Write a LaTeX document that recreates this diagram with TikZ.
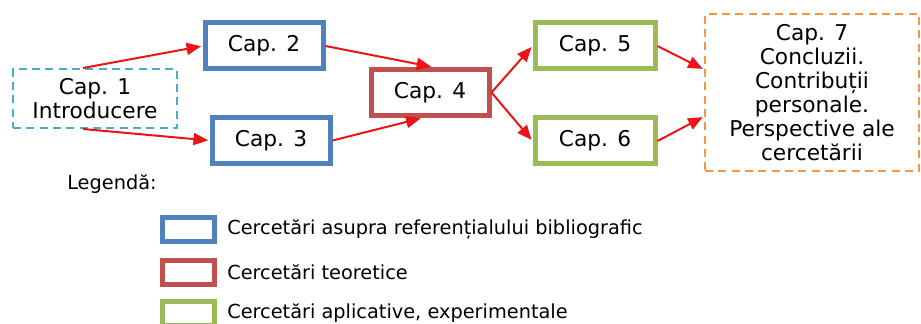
\documentclass[tikz,border=0pt]{standalone}
\usepackage{fontspec}
\setmainfont{DejaVu Sans}
\usetikzlibrary{arrows.meta}
\definecolor{cblue}{HTML}{4F81BD}
\definecolor{cred}{HTML}{C0504D}
\definecolor{cgreen}{HTML}{9BBB59}
\definecolor{cteal}{HTML}{4BACC6}
\definecolor{corange}{HTML}{F79646}
\definecolor{carrow}{RGB}{235,20,25}
\begin{document}
\begin{tikzpicture}[x=0.75pt,y=-0.75pt,
  mainfont/.style={font=\fontsize{16.3}{18}\selectfont},
  solidbox/.style={draw=#1, line width=3.75pt, inner sep=0pt, minimum width=88.5pt, minimum height=34.5pt, mainfont, align=center},
  dashbox/.style={draw=#1, line width=1.5pt, dash pattern=on 6pt off 4pt, inner sep=0pt, mainfont, align=center},
  legbox/.style={draw=#1, line width=3.75pt, inner sep=0pt, minimum width=39pt, minimum height=18pt},
  legtext/.style={anchor=west, inner sep=0pt, font=\fontsize{14.5}{16}\selectfont},
  link/.style={draw=carrow, line width=1.5pt, -{Triangle[length=11pt,width=9pt]}, shorten >=1pt}]
\useasboundingbox (0,0) rectangle (921,324);

\node[dashbox=cteal, minimum width=123pt, minimum height=44.25pt] (c1) at (95,98.5) {Cap. 1\\Introducere};
\node[solidbox=cblue] (c2) at (264,46) {Cap. 2};
\node[solidbox=cblue] (c3) at (271,140.5) {Cap. 3};
\node[solidbox=cred] (c4) at (430,92.5) {Cap. 4};
\node[solidbox=cgreen, minimum width=90pt] (c5) at (595,46) {Cap. 5};
\node[solidbox=cgreen, minimum width=90pt] (c6) at (595,141) {Cap. 6};
\node[dashbox=corange, minimum width=160.5pt, minimum height=117.75pt] (c7) at (812,92.5) {Cap. 7\\Concluzii.\\Contribuții\\personale.\\Perspective ale\\cercetării};

\draw[link] ([xshift=-9pt]c1.north) -- (c2.west);
\draw[link] ([xshift=-9pt]c1.south) -- (c3.west);
\draw[link] (c2.east) -- ([xshift=2pt]c4.north);
\draw[link] (c3.east) -- ([xshift=-6pt]c4.south);
\draw[link] (c4.east) -- (c5.west);
\draw[link] (c4.east) -- (c6.west);
\draw[link] (c5.east) -- ([yshift=17.25pt]c7.west);
\draw[link] (c6.east) -- ([yshift=-18pt]c7.west);

\node[legtext] (leg) at (67,184) {Legendă:};
\node[legbox=cblue] (l1) at (188.5,229.5) {};
\node[legbox=cred] (l2) at (188.5,272) {};
\node[legbox=cgreen] (l3) at (188.5,313) {};
\node[legtext] (t1) at (227,229.5) {Cercetări asupra referențialului bibliografic};
\node[legtext] (t2) at (227,272) {Cercetări teoretice};
\node[legtext] (t3) at (227,313) {Cercetări aplicative, experimentale};
\end{tikzpicture}
\end{document}
